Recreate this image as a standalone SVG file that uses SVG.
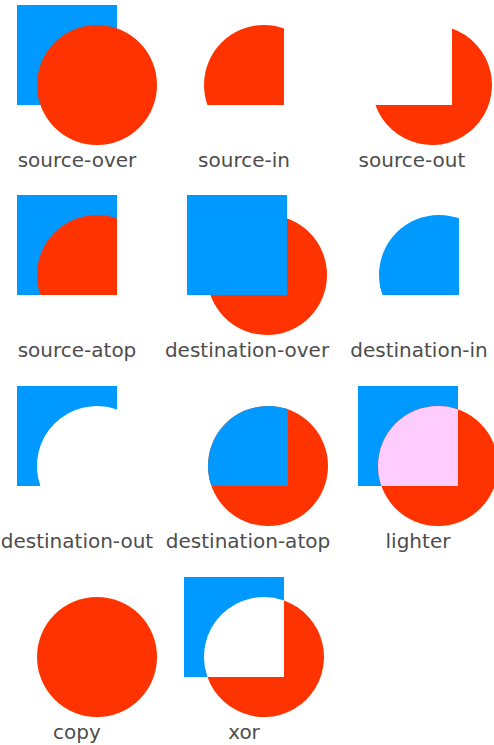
<svg xmlns="http://www.w3.org/2000/svg" xmlns:xlink="http://www.w3.org/1999/xlink" width="494" height="745" viewBox="0 0 494 745">
<style>
.b{fill:#0099ff}
.r{fill:#ff3300}
.p{fill:#ffccff}
.lbl{font-family:"DejaVu Sans",Verdana,sans-serif;font-size:20px;fill:#4d4d4d;text-anchor:middle}
</style>
<defs>
<clipPath id="cs"><rect x="0" y="0" width="100" height="100"/></clipPath>
<clipPath id="cc"><circle cx="80" cy="80" r="60"/></clipPath>
<rect id="sq" x="0" y="0" width="100" height="100"/>
<circle id="ci" cx="80" cy="80" r="60"/>
<path id="smc" d="M0,0H100V23.43A60,60 0 0,0 23.43,100H0Z"/>
<path id="cms" d="M100,23.43A60,60 0 1,1 23.43,100H100Z"/>
</defs>
<rect width="494" height="745" fill="#ffffff"/>
<g id="source-over" transform="translate(17,5)">
<use xlink:href="#sq" class="b"/><use xlink:href="#ci" class="r"/>
<text class="lbl" x="60" y="162">source-over</text>
</g>
<g id="source-in" transform="translate(184,5)">
<use xlink:href="#ci" class="r" clip-path="url(#cs)"/>
<text class="lbl" x="60" y="162">source-in</text>
</g>
<g id="source-out" transform="translate(352,5)">
<use xlink:href="#cms" class="r"/>
<text class="lbl" x="60" y="162">source-out</text>
</g>
<g id="source-atop" transform="translate(17,195)">
<use xlink:href="#sq" class="b"/><use xlink:href="#ci" class="r" clip-path="url(#cs)"/>
<text class="lbl" x="60" y="162">source-atop</text>
</g>
<g id="destination-over" transform="translate(187,195)">
<use xlink:href="#ci" class="r"/><use xlink:href="#sq" class="b"/>
<text class="lbl" x="60" y="162">destination-over</text>
</g>
<g id="destination-in" transform="translate(359,195)">
<use xlink:href="#sq" class="b" clip-path="url(#cc)"/>
<text class="lbl" x="60" y="162">destination-in</text>
</g>
<g id="destination-out" transform="translate(17,386)">
<use xlink:href="#smc" class="b"/>
<text class="lbl" x="60" y="162">destination-out</text>
</g>
<g id="destination-atop" transform="translate(188,386)">
<use xlink:href="#ci" class="r"/><use xlink:href="#sq" class="b" clip-path="url(#cc)"/>
<text class="lbl" x="60" y="162">destination-atop</text>
</g>
<g id="lighter" transform="translate(358,386)">
<use xlink:href="#sq" class="b"/><use xlink:href="#ci" class="r"/><use xlink:href="#ci" class="p" clip-path="url(#cs)"/>
<text class="lbl" x="60" y="162">lighter</text>
</g>
<g id="copy" transform="translate(17,577)">
<use xlink:href="#ci" class="r"/>
<text class="lbl" x="60" y="162">copy</text>
</g>
<g id="xor" transform="translate(184,577)">
<use xlink:href="#smc" class="b"/><use xlink:href="#cms" class="r"/>
<text class="lbl" x="60" y="162">xor</text>
</g>
<g id="connectors"/>
</svg>
